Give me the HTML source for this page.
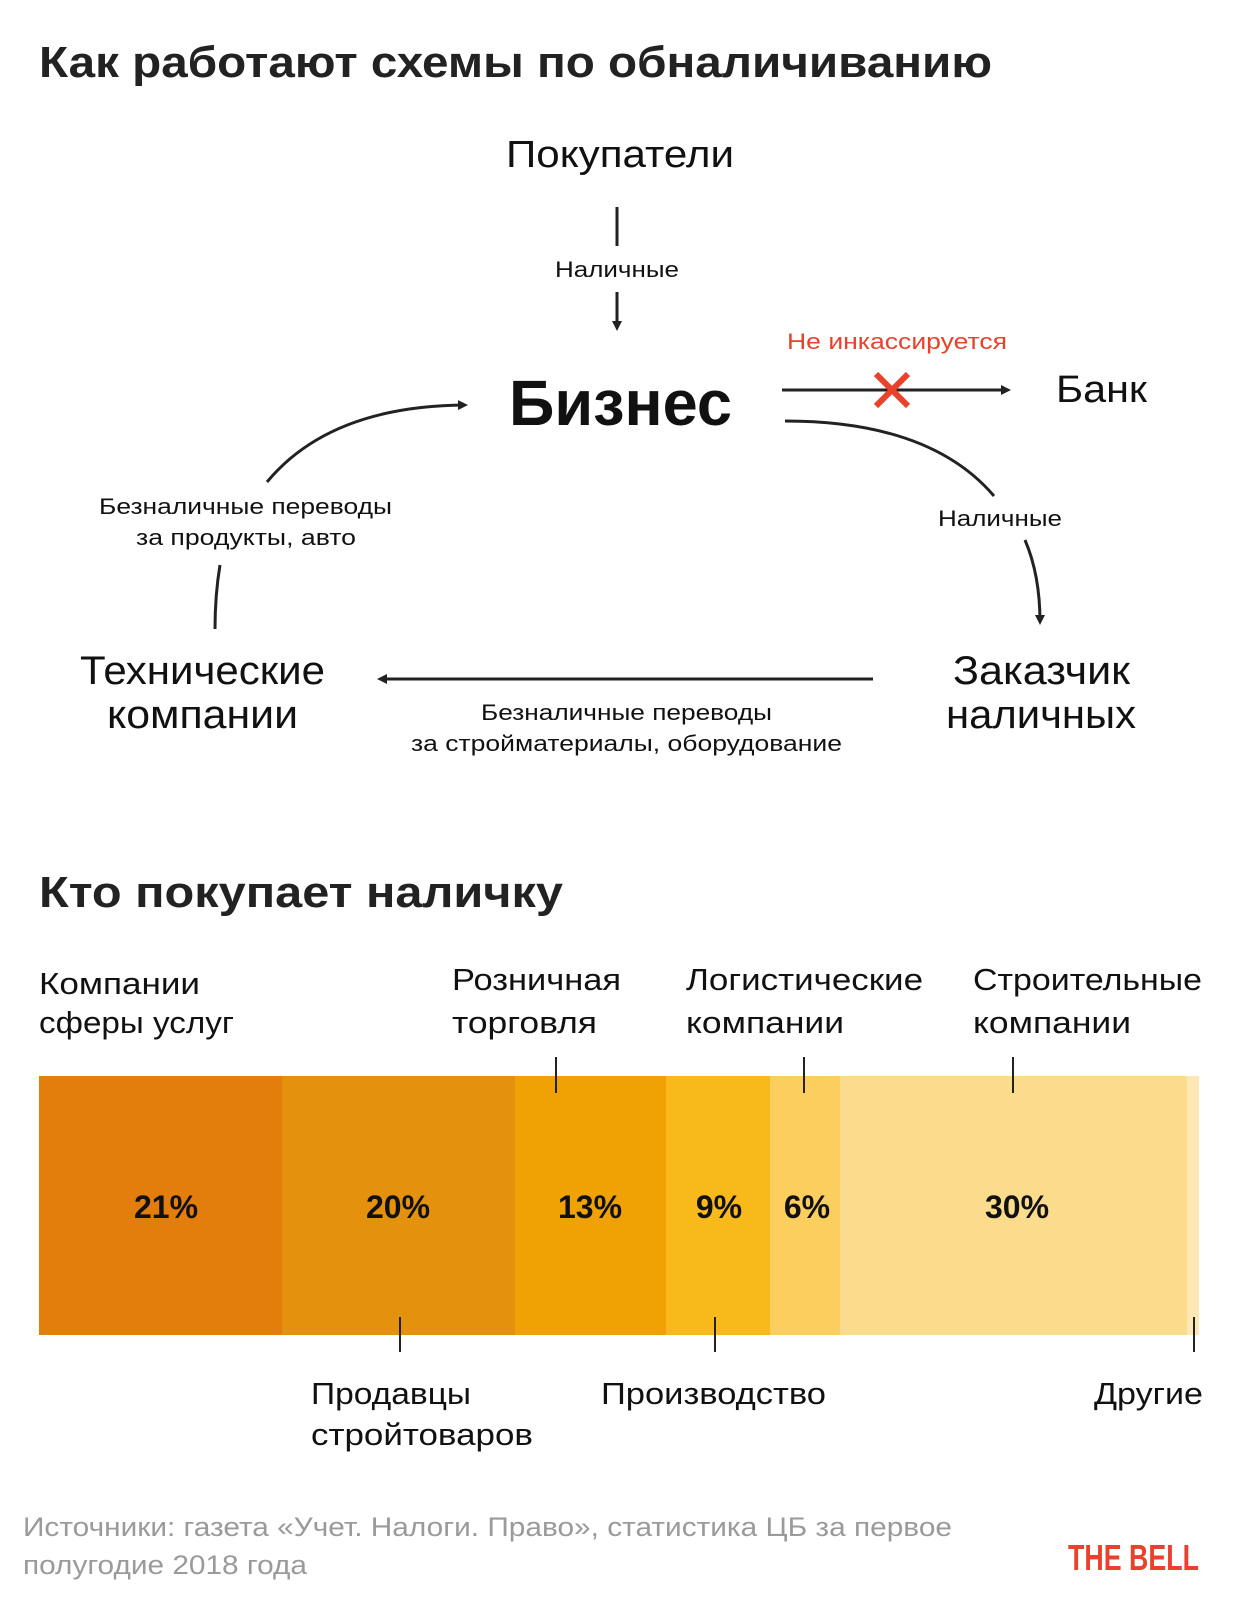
<!DOCTYPE html>
<html><head><meta charset="utf-8"><style>
html,body{margin:0;padding:0;background:#fff}
svg{display:block}
text{font-family:"Liberation Sans","Noto Sans CJK SC",sans-serif;fill:#111}
</style></head><body>
<svg width="1240" height="1610" viewBox="0 0 1240 1610" xmlns="http://www.w3.org/2000/svg">
<defs>
<marker id="ah" markerWidth="10" markerHeight="10" refX="7" refY="5" orient="auto" markerUnits="userSpaceOnUse">
<path d="M0,0 L10,5 L0,10 Z" fill="#222"/></marker>
</defs>
<text x="39" y="77" font-size="44" font-weight="bold" fill="#222" textLength="953" lengthAdjust="spacingAndGlyphs" style="fill:#222">Как работают схемы по обналичиванию</text>

<text x="506" y="167" font-size="38" textLength="228" lengthAdjust="spacingAndGlyphs">Покупатели</text>
<line x1="617" y1="207" x2="617" y2="246" stroke="#222" stroke-width="3"/>
<text x="555" y="277" font-size="22" textLength="124" lengthAdjust="spacingAndGlyphs">Наличные</text>
<line x1="617" y1="292" x2="617" y2="328" stroke="#222" stroke-width="3" marker-end="url(#ah)"/>

<text x="509" y="425" font-size="64" font-weight="bold" textLength="223" lengthAdjust="spacingAndGlyphs">Бизнес</text>

<text x="787" y="349" font-size="22" textLength="220" lengthAdjust="spacingAndGlyphs" style="fill:#E8412C">Не инкассируется</text>
<line x1="782" y1="390" x2="1008" y2="390" stroke="#222" stroke-width="3" marker-end="url(#ah)"/>
<path d="M876,374 L908,406 M908,374 L876,406" stroke="#E8412C" stroke-width="6"/>
<text x="1056" y="402" font-size="38" textLength="91" lengthAdjust="spacingAndGlyphs">Банк</text>

<path d="M785,421 Q930,421 994,496" fill="none" stroke="#222" stroke-width="3"/>
<text x="938" y="526" font-size="22" textLength="124" lengthAdjust="spacingAndGlyphs">Наличные</text>
<path d="M1025,540 Q1040,575 1040,622" fill="none" stroke="#222" stroke-width="3" marker-end="url(#ah)"/>

<text x="953" y="684" font-size="40" textLength="177" lengthAdjust="spacingAndGlyphs">Заказчик</text>
<text x="946" y="728" font-size="40" textLength="190" lengthAdjust="spacingAndGlyphs">наличных</text>

<line x1="873" y1="679" x2="380" y2="679" stroke="#222" stroke-width="3" marker-end="url(#ah)"/>
<text x="481" y="720" font-size="22" textLength="291" lengthAdjust="spacingAndGlyphs">Безналичные переводы</text>
<text x="411" y="751" font-size="22" textLength="431" lengthAdjust="spacingAndGlyphs">за стройматериалы, оборудование</text>

<text x="80" y="684" font-size="40" textLength="245" lengthAdjust="spacingAndGlyphs">Технические</text>
<text x="107" y="728" font-size="40" textLength="191" lengthAdjust="spacingAndGlyphs">компании</text>

<path d="M215,629 Q215,595 220,565" fill="none" stroke="#222" stroke-width="3"/>
<text x="99" y="514" font-size="22" textLength="293" lengthAdjust="spacingAndGlyphs">Безналичные переводы</text>
<text x="136" y="545" font-size="22" textLength="220" lengthAdjust="spacingAndGlyphs">за продукты, авто</text>
<path d="M267,482 Q330,406 465,405" fill="none" stroke="#222" stroke-width="3" marker-end="url(#ah)"/>

<text x="39" y="907" font-size="44" font-weight="bold" textLength="524" lengthAdjust="spacingAndGlyphs" style="fill:#222">Кто покупает наличку</text>

<g font-size="31">
<text x="39" y="994" textLength="161" lengthAdjust="spacingAndGlyphs">Компании</text>
<text x="39" y="1033" textLength="195" lengthAdjust="spacingAndGlyphs">сферы услуг</text>
<text x="452" y="990" textLength="169" lengthAdjust="spacingAndGlyphs">Розничная</text>
<text x="452" y="1033" textLength="145" lengthAdjust="spacingAndGlyphs">торговля</text>
<text x="686" y="990" textLength="237" lengthAdjust="spacingAndGlyphs">Логистические</text>
<text x="686" y="1033" textLength="158" lengthAdjust="spacingAndGlyphs">компании</text>
<text x="973" y="990" textLength="229" lengthAdjust="spacingAndGlyphs">Строительные</text>
<text x="973" y="1033" textLength="158" lengthAdjust="spacingAndGlyphs">компании</text>
</g>

<rect x="39" y="1076" width="243" height="259" fill="#E37D0C"/>
<rect x="282" y="1076" width="233" height="259" fill="#E4910D"/>
<rect x="515" y="1076" width="151" height="259" fill="#F0A204"/>
<rect x="666" y="1076" width="104" height="259" fill="#F8B91A"/>
<rect x="770" y="1076" width="70" height="259" fill="#FBCE5D"/>
<rect x="840" y="1076" width="347" height="259" fill="#FBDC8C"/>
<rect x="1187" y="1076" width="12" height="259" fill="#FDE8B5"/>

<g stroke="#222" stroke-width="2">
<line x1="556" y1="1057" x2="556" y2="1093"/>
<line x1="804" y1="1057" x2="804" y2="1093"/>
<line x1="1013" y1="1057" x2="1013" y2="1093"/>
<line x1="400" y1="1317" x2="400" y2="1352"/>
<line x1="715" y1="1317" x2="715" y2="1352"/>
<line x1="1194" y1="1317" x2="1194" y2="1352"/>
</g>

<g font-size="32" font-weight="bold" text-anchor="middle">
<text x="166" y="1218">21%</text>
<text x="398" y="1218">20%</text>
<text x="590" y="1218">13%</text>
<text x="719" y="1218">9%</text>
<text x="807" y="1218">6%</text>
<text x="1017" y="1218">30%</text>
</g>

<g font-size="31">
<text x="311" y="1404" textLength="160" lengthAdjust="spacingAndGlyphs">Продавцы</text>
<text x="311" y="1445" textLength="222" lengthAdjust="spacingAndGlyphs">стройтоваров</text>
<text x="601" y="1404" textLength="225" lengthAdjust="spacingAndGlyphs">Производство</text>
<text x="1094" y="1404" textLength="109" lengthAdjust="spacingAndGlyphs">Другие</text>
</g>

<text x="23" y="1536" font-size="27" textLength="929" lengthAdjust="spacingAndGlyphs" style="fill:#9a9a9a">Источники: газета «Учет. Налоги. Право», статистика ЦБ за первое</text>
<text x="23" y="1574" font-size="27" textLength="284" lengthAdjust="spacingAndGlyphs" style="fill:#9a9a9a">полугодие 2018 года</text>
<text x="1068" y="1570" font-size="36" font-weight="bold" textLength="131" lengthAdjust="spacingAndGlyphs" style="fill:#E8412C">THE BELL</text>
</svg>
</body></html>
